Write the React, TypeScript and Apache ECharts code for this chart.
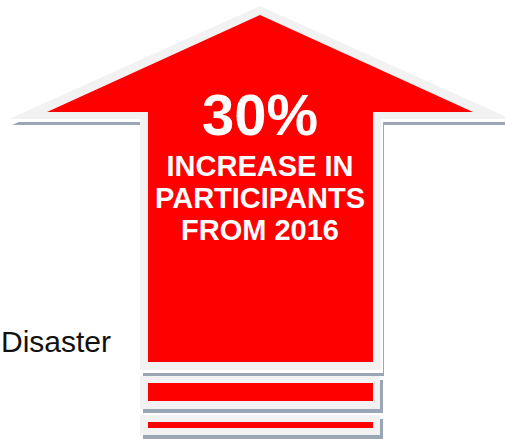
import React, { useEffect, useRef } from "react";
import * as echarts from "echarts";

// Content of the infographic
const headline: string = "30%";
const captionLines: string[] = ["INCREASE IN", "PARTICIPANTS", "FROM 2016"];
const sideLabel: string = "Disaster";

const RED = "#ff0000";
const BORDER = "#f2f2f2";
const SHADOW = "#9aa6b6";
const FONT = "'Liberation Sans', Arial, Helvetica, sans-serif";

function shift(pts: number[][], dx: number, dy: number): number[][] {
  return pts.map(([x, y]) => [x + dx, y + dy]);
}

export default function App() {
  const ref = useRef<HTMLDivElement>(null);

  useEffect(() => {
    if (!ref.current) return;
    const chart = echarts.init(ref.current, null, { renderer: "svg" });

    const outerArrow = [
      [260, 6], [511, 119], [381, 119], [381, 370],
      [140, 370], [140, 119], [9, 119],
    ];
    const innerArrow = [
      [260, 15], [473, 112], [373, 112], [373, 362],
      [148, 362], [148, 112], [47, 112],
    ];
    const boxes = [
      { outer: [140, 376, 240, 33], inner: [148, 383, 225, 18] },
      { outer: [140, 415, 240, 20], inner: [148, 422, 225, 6] },
    ];

    const elements: any[] = [];
    elements.push({ type: "polygon", shape: { points: shift(outerArrow, 3, 6) }, style: { fill: SHADOW } });
    elements.push({ type: "polygon", shape: { points: shift(outerArrow, 2, 3) }, style: { fill: "#ffffff" } });
    elements.push({ type: "polygon", shape: { points: outerArrow }, style: { fill: BORDER } });
    elements.push({ type: "polygon", shape: { points: innerArrow }, style: { fill: RED } });

    boxes.forEach((b) => {
      const [ox, oy, ow, oh] = b.outer;
      const [ix, iy, iw, ih] = b.inner;
      elements.push({ type: "rect", shape: { x: ox + 3, y: oy + 4, width: ow, height: oh }, style: { fill: SHADOW } });
      elements.push({ type: "rect", shape: { x: ox, y: oy, width: ow, height: oh }, style: { fill: BORDER } });
      elements.push({ type: "rect", shape: { x: ix, y: iy, width: iw, height: ih }, style: { fill: RED } });
    });

    elements.push({
      type: "text",
      x: 260,
      y: 114,
      style: {
        text: headline,
        fill: "#ffffff",
        font: `bold 58px ${FONT}`,
        align: "center",
        verticalAlign: "middle",
      },
    });

    const lineCenters = [166, 198, 230];
    captionLines.forEach((line, i) => {
      elements.push({
        type: "text",
        x: 260,
        y: lineCenters[i],
        style: {
          text: line,
          fill: "#ffffff",
          font: `bold 29px ${FONT}`,
          align: "center",
          verticalAlign: "middle",
        },
      });
    });

    elements.push({
      type: "text",
      x: 1,
      y: 341,
      style: {
        text: sideLabel,
        fill: "#111111",
        font: `30px ${FONT}`,
        align: "left",
        verticalAlign: "middle",
      },
    });

    chart.setOption({
      animation: false,
      backgroundColor: "#ffffff",
      graphic: { elements },
    });

    return () => chart.dispose();
  }, []);

  return (
    <div
      ref={ref}
      style={{ position: "fixed", left: 0, top: 0, width: 505, height: 439 }}
    />
  );
}
